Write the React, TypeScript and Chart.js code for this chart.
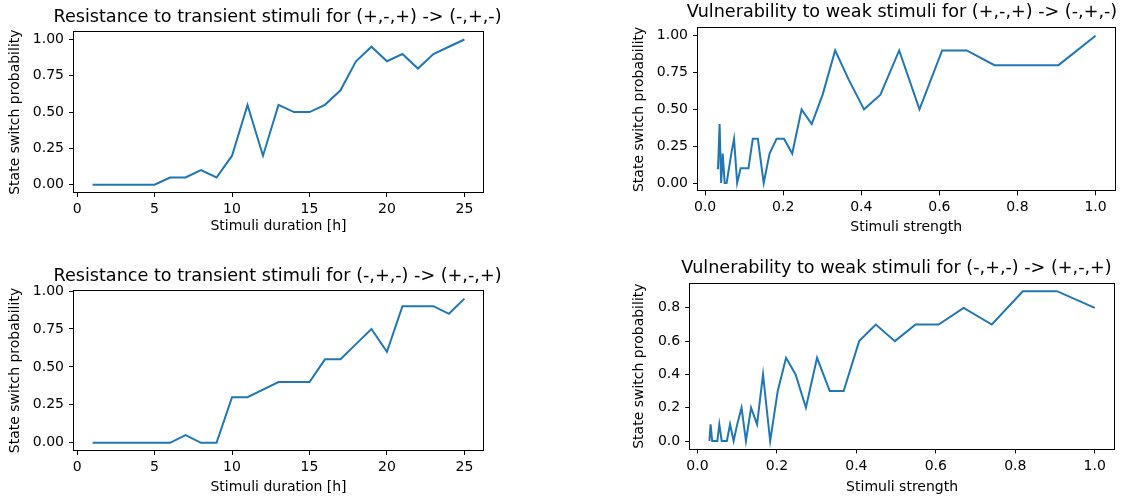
import React, { useEffect, useRef } from "react";
import { Chart, registerables } from "chart.js";

Chart.register(...registerables);

// ---------- data ----------
const durationHours = [1, 2, 3, 4, 5, 6, 7, 8, 9, 10, 11, 12, 13, 14, 15, 16, 17, 18, 19, 20, 21, 22, 23, 24, 25];
const resistancePlusToMinus = [0, 0, 0, 0, 0, 0.05, 0.05, 0.1, 0.05, 0.2, 0.55, 0.2, 0.55, 0.5, 0.5, 0.55, 0.65, 0.85, 0.95, 0.85, 0.9, 0.8, 0.9, 0.95, 1.0];
const resistanceMinusToPlus = [0, 0, 0, 0, 0, 0, 0.05, 0, 0, 0.3, 0.3, 0.35, 0.4, 0.4, 0.4, 0.55, 0.55, 0.65, 0.75, 0.6, 0.9, 0.9, 0.9, 0.85, 0.95];

const stimuliStrength = [1.0, 0.905, 0.819, 0.741, 0.670, 0.607, 0.549, 0.497, 0.449, 0.407, 0.368, 0.333, 0.301, 0.273, 0.247, 0.223, 0.202, 0.183, 0.165, 0.150, 0.135, 0.122, 0.111, 0.100, 0.091, 0.082, 0.074, 0.067, 0.061, 0.055, 0.050, 0.045, 0.041, 0.037, 0.033, 0.030];
const vulnerabilityPlusToMinus = [1.0, 0.8, 0.8, 0.8, 0.9, 0.9, 0.5, 0.9, 0.6, 0.5, 0.7, 0.9, 0.6, 0.4, 0.5, 0.2, 0.3, 0.3, 0.2, 0.0, 0.3, 0.3, 0.1, 0.1, 0.1, 0.0, 0.3, 0.2, 0.1, 0.0, 0.0, 0.2, 0.0, 0.4, 0.1, 0.1];
const vulnerabilityMinusToPlus = [0.8, 0.9, 0.9, 0.7, 0.8, 0.7, 0.7, 0.6, 0.7, 0.6, 0.3, 0.3, 0.5, 0.2, 0.4, 0.5, 0.3, 0.0, 0.4, 0.1, 0.2, 0.0, 0.2, 0.1, 0.0, 0.1, 0.0, 0.0, 0.0, 0.1, 0.0, 0.0, 0.0, 0.0, 0.1, 0.0];

const durationTicks = [0, 5, 10, 15, 20, 25];
const strengthTicks = [0, 0.2, 0.4, 0.6, 0.8, 1.0];
const probTicks = [0, 0.25, 0.5, 0.75, 1.0];
const probTicksShort = [0, 0.2, 0.4, 0.6, 0.8];

const durationRange = [-0.2, 26.2];
const strengthRange = [-0.0183, 1.0485];
const probRangeTL = [-0.05, 1.05];
const probRangeBL = [-0.0475, 1.0];
const probRangeTR = [-0.05, 1.05];
const probRangeBR = [-0.045, 0.945];

const titles = [
  "Resistance to transient stimuli for (+,-,+) -> (-,+,-)",
  "Vulnerability to weak stimuli for (+,-,+) -> (-,+,-)",
  "Resistance to transient stimuli for (-,+,-) -> (+,-,+)",
  "Vulnerability to weak stimuli for (-,+,-) -> (+,-,+)",
];
const yLabel = "State switch probability";
const xLabelDuration = "Stimuli duration [h]";
const xLabelStrength = "Stimuli strength";

// ---------- chart helpers ----------
const FONT = "'DejaVu Sans', 'Liberation Sans', sans-serif";
const TITLE_SIZE = 17.6;
const LABEL_SIZE = 14;

const boxPlugin = {
  id: "axesBox",
  afterDraw(chart: any) {
    const { ctx, chartArea: a } = chart;
    ctx.save();
    ctx.strokeStyle = "#000";
    ctx.lineWidth = 1;
    const l = Math.round(a.left) - 0.5;
    const t = Math.round(a.top) - 0.5;
    const r = Math.round(a.right) + 0.5;
    const b = Math.round(a.bottom) + 0.5;
    ctx.strokeRect(l, t, r - l, b - t);
    ctx.restore();
  },
};

// y-axis title drawn without width compression
const yTitlePlugin = {
  id: "yTitleFree",
  afterDraw(chart: any, _args: any, opts: any) {
    if (!opts || !opts.text) return;
    const { ctx, chartArea: a } = chart;
    ctx.save();
    ctx.translate(opts.x, (a.top + a.bottom) / 2);
    ctx.rotate(-Math.PI / 2);
    ctx.fillStyle = "#000";
    ctx.font = `${LABEL_SIZE}px ${FONT}`;
    ctx.textAlign = "center";
    ctx.textBaseline = "middle";
    ctx.fillText(opts.text, 0, 0);
    ctx.restore();
  },
};

type Spec = {
  left: number;
  top: number;
  height: number;
  yWidth: number;
  plotWidth: number;
  rightSpace: number;
  xHeight: number;
  titleTop: number;
  titleBottom: number;
  yTitleX: number;
  title: string;
  xs: number[];
  ys: number[];
  xRange: number[];
  yRange: number[];
  xTicks: number[];
  yTicks: number[];
  xFmt: (v: number) => string;
  yFmt: (v: number) => string;
  xLabel: string;
};

function makeConfig(s: Spec): any {
  return {
    type: "line",
    data: {
      datasets: [
        {
          data: s.xs.map((x, i) => ({ x, y: s.ys[i] })),
          borderColor: "#1f77b4",
          borderWidth: 2,
          pointRadius: 0,
          fill: false,
          tension: 0,
        },
      ],
    },
    options: {
      responsive: false,
      animation: false,
      devicePixelRatio: 1,
      layout: { padding: 0 },
      plugins: {
        legend: { display: false },
        tooltip: { enabled: false },
        title: {
          display: true,
          text: s.title,
          fullSize: true,
          color: "#000",
          font: { family: FONT, size: TITLE_SIZE, weight: "normal", lineHeight: 1.2 },
          padding: { top: s.titleTop, bottom: s.titleBottom },
        },
        yTitleFree: { text: yLabel, x: s.yTitleX },
      },
      scales: {
        x: {
          type: "linear",
          min: s.xRange[0],
          max: s.xRange[1],
          afterBuildTicks: (sc: any) => {
            sc.ticks = s.xTicks.map((v) => ({ value: v }));
          },
          afterFit: (sc: any) => {
            sc.height = s.xHeight;
          },
          ticks: {
            autoSkip: false,
            maxRotation: 0,
            color: "#000",
            padding: 4,
            font: { family: FONT, size: LABEL_SIZE },
            callback: (v: number) => s.xFmt(v),
          },
          grid: { drawOnChartArea: false, tickLength: 5, tickColor: "#000", tickWidth: 1 },
          border: { display: false },
          title: {
            display: true,
            text: s.xLabel,
            color: "#000",
            font: { family: FONT, size: LABEL_SIZE },
            padding: { top: 0, bottom: 0 },
          },
        },
        y: {
          type: "linear",
          position: "left",
          min: s.yRange[0],
          max: s.yRange[1],
          afterBuildTicks: (sc: any) => {
            sc.ticks = s.yTicks.map((v) => ({ value: v }));
          },
          afterFit: (sc: any) => {
            sc.width = s.yWidth;
          },
          ticks: {
            autoSkip: false,
            color: "#000",
            padding: 5,
            font: { family: FONT, size: LABEL_SIZE },
            callback: (v: number) => s.yFmt(v),
          },
          grid: { drawOnChartArea: false, tickLength: 5, tickColor: "#000", tickWidth: 1 },
          border: { display: false },
          title: { display: false },
        },
        // empty spacer on the right so that the title is centred over the axes
        spacer: {
          type: "linear",
          position: "right",
          display: true,
          afterFit: (sc: any) => {
            sc.width = s.rightSpace;
          },
          ticks: { display: false },
          grid: { display: false, drawTicks: false },
          border: { display: false },
          title: { display: false },
        },
      },
    },
    plugins: [boxPlugin, yTitlePlugin],
  };
}

const fmtInt = (v: number) => String(Math.round(v));
const fmt1 = (v: number) => v.toFixed(1);
const fmt2 = (v: number) => v.toFixed(2);

const specs: Spec[] = [
  {
    left: 0, top: 0, height: 235, yWidth: 74, plotWidth: 409, rightSpace: 72, xHeight: 43,
    titleTop: 6.45, titleBottom: 4.65, yTitleX: 15, title: titles[0],
    xs: durationHours, ys: resistancePlusToMinus, xRange: durationRange, yRange: probRangeTL,
    xTicks: durationTicks, yTicks: probTicks, xFmt: fmtInt, yFmt: fmt2, xLabel: xLabelDuration,
  },
  {
    left: 620, top: 0, height: 236, yWidth: 78, plotWidth: 416.5, rightSpace: 69.5, xHeight: 45.6,
    titleTop: 1.95, titleBottom: 5.25, yTitleX: 19, title: titles[1],
    xs: stimuliStrength, ys: vulnerabilityPlusToMinus, xRange: strengthRange, yRange: probRangeTR,
    xTicks: strengthTicks, yTicks: probTicks, xFmt: fmt1, yFmt: fmt2, xLabel: xLabelStrength,
  },
  {
    left: 0, top: 250, height: 246, yWidth: 74, plotWidth: 409, rightSpace: 72, xHeight: 46,
    titleTop: 15.45, titleBottom: 4.45, yTitleX: 15, title: titles[2],
    xs: durationHours, ys: resistanceMinusToPlus, xRange: durationRange, yRange: probRangeBL,
    xTicks: durationTicks, yTicks: probTicks, xFmt: fmtInt, yFmt: fmt2, xLabel: xLabelDuration,
  },
  {
    left: 620, top: 250, height: 246, yWidth: 70.2, plotWidth: 423.3, rightSpace: 59, xHeight: 47.5,
    titleTop: 7.45, titleBottom: 5.15, yTitleX: 19, title: titles[3],
    xs: stimuliStrength, ys: vulnerabilityMinusToPlus, xRange: strengthRange, yRange: probRangeBR,
    xTicks: strengthTicks, yTicks: probTicksShort, xFmt: fmt1, yFmt: fmt1, xLabel: xLabelStrength,
  },
];

function Panel({ spec }: { spec: Spec }) {
  const ref = useRef<HTMLCanvasElement | null>(null);
  const width = Math.round(spec.yWidth + spec.plotWidth + spec.rightSpace);
  useEffect(() => {
    if (!ref.current) return;
    const chart = new Chart(ref.current, makeConfig(spec));
    return () => chart.destroy();
  }, [spec]);
  return (
    <canvas
      ref={ref}
      width={width}
      height={spec.height}
      style={{
        position: "absolute",
        left: spec.left,
        top: spec.top,
        width,
        height: spec.height,
      }}
    />
  );
}

export default function App() {
  return (
    <div
      style={{
        position: "fixed",
        left: 0,
        top: 0,
        width: 1132,
        height: 497,
        background: "#fff",
        overflow: "hidden",
      }}
    >
      {specs.map((s, i) => (
        <Panel key={i} spec={s} />
      ))}
    </div>
  );
}
